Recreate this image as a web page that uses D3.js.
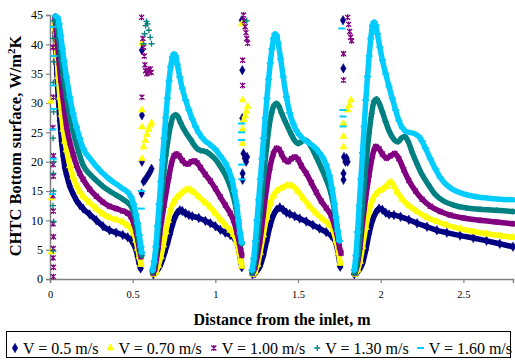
<!DOCTYPE html>
<html>
<head>
<meta charset="utf-8">
<script src="https://cdnjs.cloudflare.com/ajax/libs/d3/7.8.5/d3.min.js"></script>
<style>
  body { margin: 0; background: #fff; }
  svg { display: block; font-family: "Liberation Serif", "Times New Roman", serif; }
  svg text { font-family: "Liberation Serif", "Times New Roman", serif; }
</style>
</head>
<body>
<div id="chart"></div>
<script>
// series labels and colours
const seriesNames = ["V = 0.5 m/s", "V = 0.70 m/s", "V = 1.00 m/s", "V = 1.30 m/s", "V = 1.60 m/s"];
const seriesColors = ["#000080", "#ffff00", "#800080", "#008080", "#00ccff"];
const seriesMarkers = ["diamond", "triangle", "star", "plus", "dash"];

const xTicks = [0, 0.5, 1, 1.5, 2, 2.5];
const xTickLabels = ["0", "0.5", "1", "1.5", "2", "2.5"];
const yTicks = [0, 5, 10, 15, 20, 25, 30, 35, 40, 45];

// main bands, [distance, CHTC]; null separates the four sections
const v050 = [
  [0.030,42],[0.036,39],[0.042,35],[0.05,31],[0.06,27],[0.07,23.5],[0.08,21],[0.09,19],[0.10,17.8],[0.12,15.8],[0.14,14.5],[0.16,13.4],[0.18,12.6],[0.20,12],[0.24,11],[0.28,10],[0.32,9],[0.36,8.3],[0.40,7.9],[0.44,7.5],[0.47,7.1],[0.49,6.7],[0.505,6.0],[0.52,5.0],[0.53,3.8],[0.54,2.6],[0.548,1.8],
  null,
  [0.625,0.8],[0.64,1.2],[0.655,1.8],[0.665,2.2],[0.68,3.3],[0.695,4.6],[0.71,6.0],[0.725,7.6],[0.74,9.2],[0.755,10.5],[0.77,11.3],[0.785,11.7],[0.80,11.6],[0.82,11.2],[0.84,10.9],[0.86,10.7],[0.90,10.4],[0.94,9.9],[0.97,9.5],[1.00,9.0],[1.03,8.4],[1.06,7.9],[1.09,7.5],[1.11,7.1],[1.13,6.2],[1.145,4.5],[1.155,2.8],[1.16,2.0],
  null,
  [1.225,0.8],[1.24,1.0],[1.255,1.5],[1.27,2.2],[1.29,4.0],[1.31,6.5],[1.33,9.0],[1.35,10.8],[1.37,11.8],[1.39,12.2],[1.41,11.8],[1.43,11.3],[1.45,11.1],[1.48,10.7],[1.51,10.3],[1.55,9.8],[1.59,9.2],[1.63,8.6],[1.67,8.0],[1.70,7.4],[1.72,6.7],[1.735,5.5],[1.745,4.0],[1.755,2.1],
  null,
  [1.84,0.8],[1.86,1.2],[1.875,1.8],[1.89,2.7],[1.91,5.0],[1.93,7.8],[1.95,10],[1.97,11.3],[1.99,12.0],[2.01,11.8],[2.03,11.3],[2.05,11.0],[2.08,10.9],[2.12,10.6],[2.17,10.1],[2.22,9.5],[2.28,8.9],[2.34,8.3],[2.40,7.9],[2.48,7.4],[2.56,7.0],[2.64,6.5],[2.72,6.0],[2.80,5.5]
];
const v070 = [
  [0.028,43.5],[0.035,41],[0.042,38],[0.05,34.5],[0.06,31],[0.07,28],[0.08,25.5],[0.09,23.5],[0.10,22],[0.12,19.3],[0.14,17.4],[0.16,16],[0.18,14.9],[0.20,14.1],[0.24,13],[0.28,12],[0.32,11.1],[0.36,10.5],[0.40,10.1],[0.44,9.7],[0.47,9.1],[0.49,8.6],[0.505,7.8],[0.52,6.6],[0.53,5.2],[0.54,3.8],[0.55,2.5],
  null,
  [0.628,0.8],[0.64,1.2],[0.655,2.3],[0.67,3.8],[0.685,5.8],[0.70,8.0],[0.715,10.0],[0.73,11.8],[0.75,13.2],[0.77,14.0],[0.79,14.5],[0.81,15.0],[0.83,15.3],[0.85,15.2],[0.87,14.8],[0.90,14.0],[0.94,13.0],[0.97,12.2],[1.00,11.2],[1.03,10.2],[1.06,9.2],[1.09,8.3],[1.11,7.6],[1.13,6.2],[1.145,4.5],[1.155,3.0],[1.16,2.2],
  null,
  [1.228,0.8],[1.24,1.2],[1.255,2.5],[1.27,4.5],[1.29,7.5],[1.31,10.5],[1.33,12.8],[1.35,14.2],[1.37,15.0],[1.40,15.5],[1.43,15.9],[1.45,16.0],[1.47,15.8],[1.50,14.9],[1.53,13.8],[1.57,12.4],[1.61,11.2],[1.65,10.2],[1.69,9.2],[1.71,8.4],[1.73,6.5],[1.745,4.5],[1.755,2.7],
  null,
  [1.845,0.8],[1.86,1.5],[1.875,3.0],[1.89,5.5],[1.91,8.8],[1.93,11.6],[1.95,13.5],[1.97,14.5],[1.99,15.0],[2.01,15.3],[2.03,15.7],[2.05,16.4],[2.065,16.5],[2.08,15.8],[2.10,14.8],[2.13,13.6],[2.17,12.5],[2.22,11.5],[2.28,10.5],[2.34,9.8],[2.40,9.2],[2.48,8.6],[2.56,8.1],[2.64,7.7],[2.72,7.4],[2.80,7.1]
];
const v100 = [
  [0.03,44.5],[0.037,42.5],[0.045,40],[0.055,37],[0.065,34],[0.075,31.5],[0.085,29.3],[0.10,26],[0.12,23.3],[0.14,21.2],[0.16,19.4],[0.18,18],[0.20,17],[0.24,15.3],[0.28,14.1],[0.32,13.1],[0.36,12.4],[0.40,12.0],[0.44,11.6],[0.47,11.2],[0.49,10.6],[0.505,9.6],[0.52,8.2],[0.53,6.8],[0.54,5.2],[0.55,3.8],
  null,
  [0.625,1.0],[0.635,1.8],[0.645,3.6],[0.655,5.5],[0.665,8.0],[0.675,10.0],[0.69,12.6],[0.705,15.2],[0.72,17.6],[0.735,19.7],[0.75,21.0],[0.765,21.3],[0.78,21.0],[0.80,20.2],[0.82,19.7],[0.835,19.6],[0.855,20.0],[0.875,20.1],[0.89,19.8],[0.91,19.0],[0.94,17.8],[0.97,16.7],[1.00,15.4],[1.03,14.0],[1.06,12.6],[1.09,11.2],[1.11,10.0],[1.13,8.0],[1.145,6.2],[1.155,4.8],[1.16,4.0],
  null,
  [1.225,1.0],[1.24,2.0],[1.255,4.0],[1.27,6.5],[1.29,11.0],[1.31,15.5],[1.33,19.0],[1.35,21.3],[1.37,22.3],[1.385,22.1],[1.40,21.3],[1.42,20.3],[1.44,20.0],[1.46,20.5],[1.48,20.8],[1.50,20.4],[1.52,19.3],[1.55,18.0],[1.58,16.4],[1.61,14.8],[1.64,13.3],[1.67,12.1],[1.70,10.8],[1.72,9.2],[1.74,7.0],[1.75,5.5],[1.76,4.4],
  null,
  [1.845,1.0],[1.86,2.6],[1.875,5.5],[1.89,9.5],[1.91,14.0],[1.93,17.8],[1.95,21.0],[1.97,22.6],[1.99,22.2],[2.01,21.3],[2.035,20.6],[2.06,21.0],[2.085,21.4],[2.11,20.5],[2.14,18.6],[2.17,16.8],[2.21,15.0],[2.25,13.6],[2.30,12.4],[2.36,11.5],[2.42,10.9],[2.50,10.4],[2.60,10.0],[2.70,9.7],[2.80,9.4]
];
const v130 = [
  [0.032,44.8],[0.04,44],[0.05,42],[0.06,39.5],[0.07,37],[0.08,34.8],[0.09,32.8],[0.10,31],[0.12,27.8],[0.14,25.2],[0.16,23.0],[0.18,21.0],[0.20,19.4],[0.24,17.9],[0.28,16.8],[0.32,15.8],[0.36,15.0],[0.40,14.3],[0.44,13.6],[0.47,13.0],[0.49,12.4],[0.505,11.5],[0.52,9.8],[0.53,8.0],[0.54,6.2],[0.55,4.8],[0.555,4.0],
  null,
  [0.62,1.2],[0.63,2.5],[0.64,4.5],[0.65,7.0],[0.66,10.0],[0.67,13.0],[0.68,15.8],[0.69,18.5],[0.70,21.0],[0.715,24.0],[0.73,26.3],[0.745,27.7],[0.76,28.0],[0.775,27.6],[0.79,26.6],[0.81,25.5],[0.83,24.6],[0.85,23.8],[0.87,22.9],[0.89,22.2],[0.91,21.9],[0.93,21.8],[0.95,21.6],[0.97,21.2],[1.00,20.4],[1.03,19.2],[1.06,17.8],[1.09,15.8],[1.11,14.0],[1.125,12.0],[1.14,9.5],[1.15,7.5],[1.16,6.0],
  null,
  [1.222,1.0],[1.235,2.5],[1.25,5.5],[1.265,9.5],[1.28,14.0],[1.295,18.5],[1.31,22.5],[1.325,26.0],[1.34,28.3],[1.355,29.6],[1.37,29.9],[1.385,29.4],[1.40,28.3],[1.42,27.0],[1.44,25.8],[1.46,24.6],[1.48,23.6],[1.50,23.1],[1.52,23.4],[1.54,23.7],[1.56,23.4],[1.58,22.5],[1.61,20.8],[1.64,19.0],[1.67,17.0],[1.70,14.5],[1.72,11.8],[1.735,9.0],[1.75,6.5],
  null,
  [1.842,1.0],[1.855,2.5],[1.87,6.0],[1.885,11.0],[1.90,16.0],[1.915,21.0],[1.93,25.0],[1.945,28.2],[1.96,30.3],[1.975,30.7],[1.99,30.0],[2.01,28.5],[2.03,26.8],[2.05,25.3],[2.07,24.2],[2.09,23.5],[2.105,23.4],[2.125,24.0],[2.145,24.3],[2.165,23.5],[2.19,21.6],[2.22,19.6],[2.25,17.8],[2.29,16.0],[2.33,14.4],[2.38,13.3],[2.44,12.6],[2.52,12.1],[2.60,11.9],[2.70,11.7],[2.80,11.5]
];
const v160 = [
  [0.035,44.8],[0.045,44.6],[0.055,43.5],[0.065,41.5],[0.075,39.3],[0.085,37.2],[0.10,34.4],[0.12,31.0],[0.14,28.2],[0.16,25.9],[0.18,24.0],[0.20,22.3],[0.24,20.6],[0.28,19.2],[0.32,18.0],[0.36,17.0],[0.40,16.2],[0.44,15.4],[0.47,14.8],[0.49,14.0],[0.505,12.8],[0.52,11.0],[0.53,9.5],[0.54,7.5],[0.55,5.5],[0.555,4.5],
  null,
  [0.62,1.5],[0.63,3.0],[0.64,5.5],[0.65,9.0],[0.66,12.8],[0.67,16.6],[0.68,20.3],[0.69,24.0],[0.70,27.5],[0.71,30.8],[0.72,33.8],[0.73,36.2],[0.74,37.8],[0.75,38.4],[0.76,38.0],[0.77,36.6],[0.785,34.4],[0.80,32.5],[0.82,30.5],[0.84,28.8],[0.86,27.3],[0.88,26.0],[0.90,24.9],[0.92,24.1],[0.94,23.5],[0.96,23.1],[0.98,22.6],[1.00,22.1],[1.03,21.0],[1.06,19.8],[1.08,18.6],[1.10,17.0],[1.115,15.0],[1.13,12.5],[1.14,10.0],[1.15,7.8],[1.16,6.2],
  null,
  [1.222,1.5],[1.232,3.5],[1.242,6.5],[1.252,10.0],[1.262,13.5],[1.272,17.0],[1.282,20.5],[1.292,24.0],[1.302,27.5],[1.312,30.8],[1.322,34.0],[1.332,36.8],[1.342,39.2],[1.352,41.0],[1.36,41.8],[1.37,41.5],[1.38,40.2],[1.395,37.5],[1.41,34.5],[1.43,31.0],[1.45,28.3],[1.47,26.5],[1.49,25.3],[1.51,24.5],[1.53,23.9],[1.55,23.5],[1.57,23.1],[1.59,22.7],[1.61,22.2],[1.63,21.5],[1.65,20.7],[1.67,19.5],[1.69,17.6],[1.705,15.5],[1.72,12.8],[1.73,10.5],[1.74,8.2],[1.75,6.5],
  null,
  [1.84,1.5],[1.85,4.0],[1.86,8.0],[1.87,12.5],[1.88,17.0],[1.89,21.5],[1.90,26.0],[1.91,30.5],[1.92,34.5],[1.93,38.0],[1.94,41.0],[1.95,43.2],[1.96,43.8],[1.97,43.3],[1.98,41.8],[1.995,39.5],[2.01,37.3],[2.03,35.0],[2.05,32.8],[2.07,30.8],[2.09,28.8],[2.11,27.0],[2.13,25.8],[2.15,25.2],[2.17,25.0],[2.19,24.9],[2.21,24.7],[2.23,24.3],[2.25,23.5],[2.27,22.3],[2.30,20.5],[2.33,18.8],[2.36,17.3],[2.40,16.0],[2.44,15.2],[2.50,14.5],[2.56,14.1],[2.64,13.8],[2.72,13.6],[2.80,13.5]
];

// loose points at the inlet and in the gaps between sections
const v050Loose = [[0.033,37.2],[0.038,42.3],[0.556,39.0],[0.556,27.9],[0.556,20.0],[0.554,14.6],[0.566,16.6],[0.576,16.9],[0.586,17.4],[0.596,17.8],[0.606,18.3],[0.614,18.8],
  [1.16,44.1],[1.163,35.6],[1.163,27.4],[1.17,21.4],[1.178,20.6],[1.186,20.0],[1.192,20.8],[1.165,18.0],[1.165,16.9],
  [1.772,44.1],[1.774,35.9],[1.778,20.8],[1.786,20.0],[1.794,20.6],[1.80,20.0],[1.775,18.0],[1.775,16.9]];
const v070Loose = [[0.008,4.6],[0.008,13.8],[0.005,30.3],[0.03,43.6],[0.556,40.2],[0.556,28.8],[0.556,25.9],[0.556,20.5],
  [0.566,22.5],[0.576,23.6],[0.586,24.6],[0.596,25.5],[0.606,26.2],[0.614,26.6],
  [1.16,43.5],[1.165,30.5],[1.165,25.5],[1.165,23.1],[1.172,27.1],[1.18,27.8],[1.188,28.6],[1.195,29.4],
  [1.775,26.5],[1.775,24.3],[1.775,22.5],[1.80,28.8],[1.81,29.6],[1.82,30.5]];
const v100Loose = [[0.02,0.4],[0.021,2.0],[0.019,3.6],[0.02,5.2],[0.021,7.2],[0.019,9.4],[0.02,11.6],[0.018,14.2],[0.02,17.5],[0.019,19.5],[0.021,21.0],[0.018,25.8],[0.02,31.0],[0.017,39.5],
  [0.554,44.6],[0.556,31.0],[0.562,41],[0.566,39.5],[0.57,38],[0.574,36.5],[0.578,35.5],[0.586,35],[0.596,35.5],[0.606,35.8],[0.612,35.2],
  [1.17,45],[1.175,44],[1.18,43],[1.185,42],[1.19,41],[1.195,40.2],[1.165,37.3],[1.165,33.0],
  [1.80,44.6],[1.806,43.4],[1.812,42.2],[1.818,41.2],[1.824,40.6],[1.775,38.4],[1.775,33.9]];
const v130Loose = [[0.02,4.8],[0.022,9.8],[0.018,12.5],[0.021,15],[0.02,18],[0.023,20],[0.019,24],[0.022,28.5],[0.02,33.5],[0.022,37],[0.02,41],[0.021,44],
  [0.566,40.1],[0.572,41.8],[0.578,43.2],[0.584,43.9],[0.59,43.5],[0.598,42.4],[0.606,41.2],[0.614,40.1],[1.19,44]];
const v160Loose = [[0.016,14.5],[0.02,20.5],[0.018,25.5],[0.022,29],[0.02,33],[0.024,38],[0.02,43],
  [0.552,15],[0.552,12],[1.158,26.5],[1.158,25.0],[1.158,23.7],[1.158,19.5],[1.16,17],
  [1.765,42.7],[1.772,28.8],[1.772,27.7],[1.772,26.0]];

const bands = [v050, v070, v100, v130, v160];
const loose = [v050Loose, v070Loose, v100Loose, v130Loose, v160Loose];

const width = 515, height = 360;
const serif = "Liberation Serif, Times New Roman, serif";

const svg = d3.select("#chart").append("svg")
  .attr("width", width)
  .attr("height", height);

const x = d3.scaleLinear().domain([0, 2.8]).range([50, 513]);
const y = d3.scaleLinear().domain([0, 45]).range([279, 15]);

const markerPath = {
  diamond: d3.symbol(d3.symbolDiamond, 26)(),
  triangle: d3.symbol(d3.symbolTriangle, 22)(),
  star: "M-2.5,-2.5L2.5,2.5M-2.5,2.5L2.5,-2.5M0,-3V3",
  plus: "M-3,0H3M0,-3V3",
  dash: "M-3.5,0H3.5"
};

function drawMarker(sel, type, color) {
  const filled = type === "diamond" || type === "triangle";
  sel.attr("d", markerPath[type])
    .attr("fill", filled ? color : "none")
    .attr("stroke", color)
    .attr("stroke-width", type === "dash" ? 2 : (filled ? 0.5 : 1.3));
}

// axes
const xAxis = svg.append("g")
  .attr("transform", `translate(0,${y(0)})`)
  .call(d3.axisBottom(x).tickValues(xTicks).tickFormat((d, i) => xTickLabels[i]).tickSize(4).tickPadding(8));
const yAxis = svg.append("g")
  .attr("transform", `translate(${x(0)},0)`)
  .call(d3.axisLeft(y).tickValues(yTicks).tickSize(4).tickPadding(3));

[xAxis, yAxis].forEach(g => {
  g.attr("font-family", serif);
  g.select(".domain").attr("stroke", "#808080").attr("stroke-width", 1.5);
  g.selectAll(".tick line").attr("stroke", "#808080").attr("stroke-width", 1.2);
  g.selectAll("text").attr("fill", "#000").attr("font-family", serif);
});
xAxis.attr("font-size", 10.5);
yAxis.attr("font-size", 12);

// series
const line = d3.line()
  .defined(d => d !== null)
  .x(d => x(d[0]))
  .y(d => y(d[1]))
  .curve(d3.curveMonotoneX);

bands.forEach((data, i) => {
  const g = svg.append("g");
  g.append("path")
    .attr("d", line(data))
    .attr("fill", "none")
    .attr("stroke", seriesColors[i])
    .attr("stroke-width", 5.5)
    .attr("stroke-linejoin", "round")
    .attr("stroke-linecap", "round");
  g.selectAll("path.pt")
    .data(data.filter(d => d !== null).concat(loose[i]))
    .enter().append("path")
    .attr("class", "pt")
    .attr("transform", d => `translate(${x(d[0])},${y(d[1])})`)
    .call(drawMarker, seriesMarkers[i], seriesColors[i]);
});

// axis titles
svg.append("text")
  .attr("x", 282).attr("y", 325)
  .attr("text-anchor", "middle")
  .style("font-size", "16px").style("font-weight", "bold")
  .text("Distance from the inlet, m");

const yTitle = svg.append("text")
  .attr("transform", "translate(21,146) rotate(-90)")
  .attr("text-anchor", "middle")
  .style("font-size", "16.5px").style("font-weight", "bold");
yTitle.append("tspan").text("CHTC Bottom surface, W/m");
yTitle.append("tspan").attr("baseline-shift", "super").style("font-size", "11px").text("2");
yTitle.append("tspan").text("K");

// legend
svg.append("rect")
  .attr("x", 6.5).attr("y", 331.5)
  .attr("width", 504).attr("height", 26)
  .attr("fill", "#fff").attr("stroke", "#000").attr("stroke-width", 1);

let lx = 15;
seriesNames.forEach((name, i) => {
  svg.append("path")
    .attr("transform", `translate(${lx},348)`)
    .call(drawMarker, seriesMarkers[i], seriesColors[i]);
  const t = svg.append("text")
    .attr("x", lx + 8).attr("y", 354)
    .style("font-size", "16px")
    .text(name);
  lx = lx + 8 + t.node().getComputedTextLength() + 12;
});
</script>
</body>
</html>
